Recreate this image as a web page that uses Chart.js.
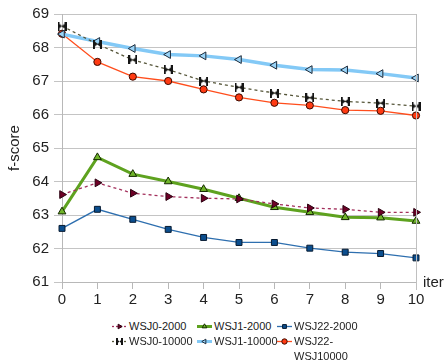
<!DOCTYPE html>
<html lang="en">
<head>
  <meta charset="UTF-8">
  <title>f-score vs iter</title>
  <script src="https://cdn.jsdelivr.net/npm/chart.js"></script>
  <style>
    body { margin: 0; background: #fff; font-family: "Liberation Sans", Arial, sans-serif; }
    #wrap { position: relative; width: 448px; height: 360px; }
    #chart { position: absolute; left: 0; top: 0; }
    #legend { position: absolute; left: 0; top: 319px; width: 448px; font-size: 11px; line-height: 15px; color: #222; }
    #legend .item { position: absolute; display: flex; align-items: flex-start; white-space: pre; }
    #legend canvas { flex: none; margin-top: 2px; margin-right: 2px; }
  </style>
</head>
<body>
  <div id="wrap">
    <canvas id="chart" width="448" height="310"></canvas>
    <div id="legend"></div>
  </div>

  <script>
    // data
    const iters = ['0', '1', '2', '3', '4', '5', '6', '7', '8', '9', '10'];
    const wsj0_2000   = [63.61, 63.96, 63.65, 63.55, 63.50, 63.48, 63.33, 63.21, 63.17, 63.08, 63.08];
    const wsj1_2000   = [63.10, 64.72, 64.22, 64.00, 63.77, 63.50, 63.23, 63.08, 62.93, 62.92, 62.82];
    const wsj22_2000  = [62.60, 63.17, 62.87, 62.57, 62.33, 62.18, 62.18, 62.01, 61.89, 61.85, 61.72];
    const wsj0_10000  = [68.64, 68.10, 67.63, 67.34, 67.00, 66.81, 66.64, 66.50, 66.39, 66.34, 66.25];
    const wsj1_10000  = [68.40, 68.18, 67.97, 67.79, 67.75, 67.64, 67.47, 67.34, 67.33, 67.22, 67.09];
    const wsj22_10000 = [68.41, 67.57, 67.13, 67.00, 66.75, 66.51, 66.35, 66.27, 66.13, 66.11, 65.97];
    const yMin = 61, yMax = 69;

    // bow tie marker for WSJ0-10000
    function bowtie(size) {
      const c = document.createElement('canvas');
      c.width = size; c.height = size;
      const g = c.getContext('2d');
      const m = size / 2;
      g.fillStyle = '#151515';
      g.beginPath();
      g.moveTo(0, 0.5); g.lineTo(m, m); g.lineTo(0, size - 0.5); g.closePath();
      g.moveTo(size, 0.5); g.lineTo(m, m); g.lineTo(size, size - 0.5); g.closePath();
      g.fill();
      g.fillRect(0, 0, 2, size);
      g.fillRect(size - 2, 0, 2, size);
      return c;
    }
    const bow = bowtie(9);
    const bowSmall = bowtie(7);

    const series = [
      { label: 'WSJ0-2000', data: wsj0_2000, borderColor: '#a3305c', borderWidth: 1.3, borderDash: [3, 3],
        pointStyle: 'triangle', pointRotation: 90, pointRadius: 4.5, pointBackgroundColor: '#6e0026', pointBorderColor: '#2a0010' },
      { label: 'WSJ1-2000', data: wsj1_2000, borderColor: '#5ea21f', borderWidth: 3, borderDash: [],
        pointStyle: 'triangle', pointRotation: 0, pointRadius: 4.5, pointBackgroundColor: '#70b52a', pointBorderColor: '#142800' },
      { label: 'WSJ22-2000', data: wsj22_2000, borderColor: '#2e6faf', borderWidth: 1.3, borderDash: [],
        pointStyle: 'rect', pointRotation: 0, pointRadius: 4.2, pointBackgroundColor: '#0b4e8e', pointBorderColor: '#071a30' },
      { label: 'WSJ0-10000', data: wsj0_10000, borderColor: '#56563a', borderWidth: 1.3, borderDash: [3, 3],
        pointStyle: bow, pointRotation: 0, pointRadius: 4.5, pointBackgroundColor: '#151515', pointBorderColor: '#151515' },
      { label: 'WSJ1-10000', data: wsj1_10000, borderColor: '#83c9f6', borderWidth: 3.5, borderDash: [],
        pointStyle: 'triangle', pointRotation: -90, pointRadius: 4.5, pointBackgroundColor: '#9ad4f8', pointBorderColor: '#1c2a3a' },
      { label: 'WSJ22-\nWSJ10000', data: wsj22_10000, borderColor: '#ff4d1c', borderWidth: 1.3, borderDash: [],
        pointStyle: 'circle', pointRotation: 0, pointRadius: 3.6, pointBackgroundColor: '#ff3a12', pointBorderColor: '#3a0a00' }
    ];
    const legendCols = [112, 197, 277];

    const frame = {
      id: 'frame',
      afterDraw(chart) {
        const { ctx, chartArea: a } = chart;
        ctx.save();
        ctx.strokeStyle = '#c0c0c0';
        ctx.lineWidth = 1;
        ctx.beginPath();
        ctx.moveTo(Math.round(a.right) + 0.5, a.top);
        ctx.lineTo(Math.round(a.right) + 0.5, a.bottom + 8);
        ctx.stroke();
        ctx.fillStyle = '#222';
        ctx.font = '15px "Liberation Sans", Arial, sans-serif';
        ctx.textBaseline = 'middle';
        ctx.fillText('iter', a.right + 7, a.bottom + 1);
        ctx.restore();
      }
    };

    const chart = new Chart(document.getElementById('chart'), {
      type: 'line',
      data: {
        labels: iters,
        datasets: series.map(s => ({
          label: s.label.replace('\n', ''), data: s.data,
          borderColor: s.borderColor, borderWidth: s.borderWidth, borderDash: s.borderDash,
          pointStyle: s.pointStyle, pointRotation: s.pointRotation, pointRadius: s.pointRadius,
          pointBackgroundColor: s.pointBackgroundColor, pointBorderColor: s.pointBorderColor,
          pointBorderWidth: 1, fill: false, tension: 0
        }))
      },
      options: {
        responsive: false,
        animation: false,
        layout: { padding: { left: 6, right: 32, top: 13, bottom: 0 } },
        plugins: { legend: { display: false }, tooltip: { enabled: false } },
        scales: {
          x: {
            offset: false,
            grid: { drawOnChartArea: false, drawTicks: true, tickLength: 7, color: '#b8b8b8' },
            border: { color: '#b8b8b8' },
            ticks: { color: '#222', font: { size: 15, family: '"Liberation Sans", Arial' }, padding: 2, maxRotation: 0 },
            afterFit: s => { s.height = 28; }
          },
          y: {
            min: yMin, max: yMax,
            grid: { color: '#c4c4c4', tickLength: 8 },
            border: { color: '#b8b8b8' },
            ticks: { stepSize: 1, color: '#222', font: { size: 15, family: '"Liberation Sans", Arial' }, padding: 5 },
            title: { display: true, text: 'f-score', color: '#222', font: { size: 15, family: '"Liberation Sans", Arial' }, padding: 0 },
            afterFit: s => { s.width = 56; }
          }
        }
      },
      plugins: [frame]
    });

    // legend: line + marker, three columns
    const legend = document.getElementById('legend');
    series.forEach((s, i) => {
      const item = document.createElement('div');
      item.className = 'item';
      item.style.left = legendCols[i % 3] + 'px';
      item.style.top = Math.floor(i / 3) * 15 + 'px';
      const c = document.createElement('canvas');
      c.width = 15; c.height = 11;
      c.style.width = '15px'; c.style.height = '11px';
      const g = c.getContext('2d');
      g.strokeStyle = s.borderColor;
      g.lineWidth = Math.min(s.borderWidth, 3);
      g.setLineDash(s.borderDash.length ? [2, 2] : []);
      g.beginPath(); g.moveTo(0, 5.5); g.lineTo(15, 5.5); g.stroke();
      g.setLineDash([]);
      g.fillStyle = s.pointBackgroundColor;
      g.strokeStyle = s.pointBorderColor;
      g.lineWidth = 1;
      const style = s.pointStyle === bow ? bowSmall : s.pointStyle;
      if (Chart.helpers && Chart.helpers.drawPoint) {
        Chart.helpers.drawPoint(g, { pointStyle: style, rotation: s.pointRotation, radius: 2.7, borderWidth: 1 }, 7.5, 5.5);
      }
      const t = document.createElement('span');
      t.textContent = s.label;
      item.appendChild(c);
      item.appendChild(t);
      legend.appendChild(item);
    });
  </script>
</body>
</html>
